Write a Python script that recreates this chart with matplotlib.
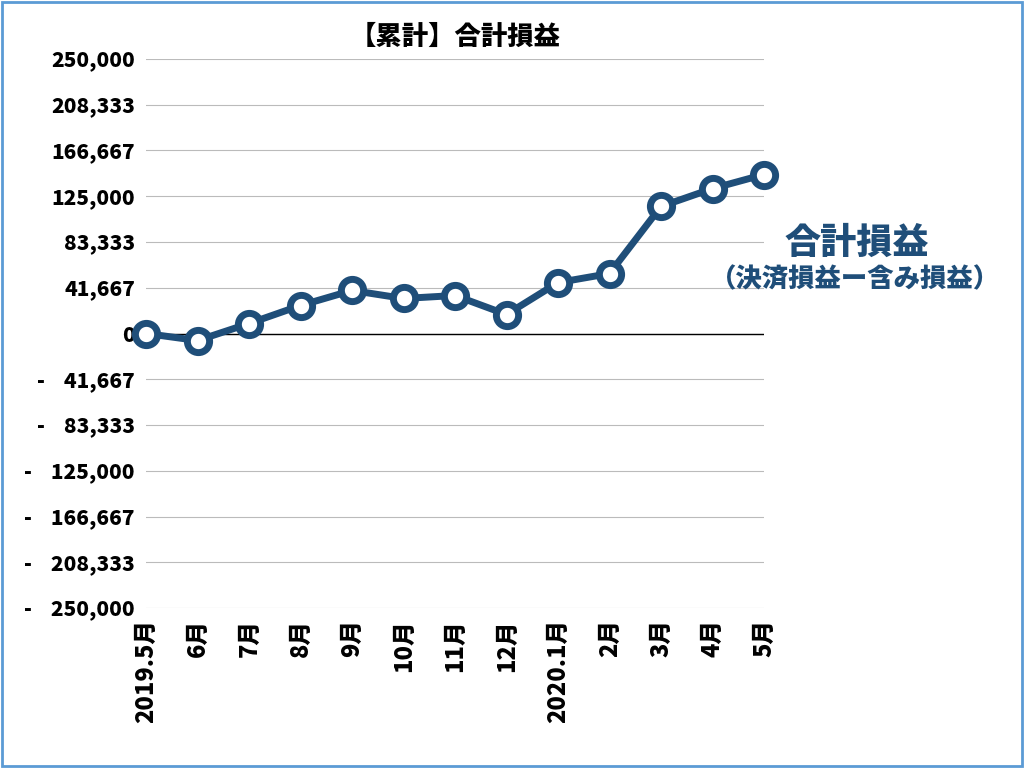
import matplotlib
matplotlib.use("Agg")
import matplotlib.pyplot as plt
from matplotlib.patches import Rectangle

plt.rcParams["font.family"] = "Noto Sans CJK JP"
plt.rcParams["font.weight"] = "black"

months = ["2019.5月", "6月", "7月", "8月", "9月", "10月", "11月", "12月",
          "2020.1月", "2月", "3月", "4月", "5月"]
total_pl = [0, -6400, 9100, 25500, 39200, 31900, 34600, 17300,
            46400, 54600, 115700, 132000, 144800]
yticks = [-250000, -208333, -166667, -125000, -83333, -41667, 0,
          41667, 83333, 125000, 166667, 208333, 250000]

def fmt(v):
    if v < 0:
        return "-    " + f"{-v:,}"
    return f"{v:,}"

fig = plt.figure(figsize=(10.24, 7.68), dpi=100)
ax = fig.add_axes([146/1024, 1 - 608/768, (764-146)/1024, (608-59)/768])
color = "#1f4e79"

x = list(range(len(months)))
ax.plot(x, total_pl, color=color, lw=5, marker="o", ms=16,
        mfc="white", mec=color, mew=5, zorder=3, clip_on=False)

ax.set_ylim(-250000, 250000)
ax.set_xlim(0, len(months) - 1)
ax.set_yticks(yticks)
ax.set_yticklabels([fmt(v) for v in yticks], fontsize=15, fontweight="black")
ax.set_xticks(x)
ax.set_xticklabels(months, rotation=90, fontsize=17, fontweight="black")
ax.grid(axis="y", color="#bbbbbb", lw=0.8)
ax.axhline(0, color="black", lw=1, zorder=2)
for s in ax.spines.values():
    s.set_visible(False)
ax.tick_params(length=0, pad=8)

ax.set_title("【累計】合計損益", fontsize=19, fontweight="black", pad=10)

fig.text(857/1024, 1 - 243/768, "合計損益", fontsize=26, fontweight="black",
         color=color, ha="center", va="center")
fig.text(855/1024, 1 - 279/768, "（決済損益ー含み損益）", fontsize=19,
         fontweight="black", color=color, ha="center", va="center")

fig.patches.append(Rectangle((0.002, 0.002), 0.996, 0.996, fill=False,
                             edgecolor="#5b9bd5", lw=2, transform=fig.transFigure))

fig.savefig("out.png", dpi=100)
